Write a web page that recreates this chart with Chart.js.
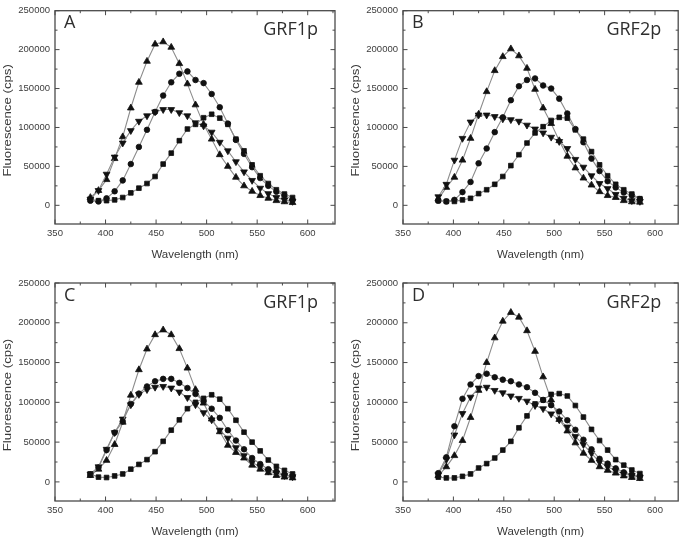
<!DOCTYPE html>
<html>
<head>
<meta charset="utf-8">
<script src="https://cdn.jsdelivr.net/npm/chart.js@4.4.1/dist/chart.umd.min.js"></script>
<style>
  html, body { margin: 0; padding: 0; background: #fff; overflow: hidden; }
  #wrap { position: relative; width: 683px; height: 537px; }
  canvas { position: absolute; }
</style>
</head>
<body>
<div id="wrap">
  <canvas id="chartA" width="341" height="268" style="left:0;top:0"></canvas>
  <canvas id="chartB" width="342" height="268" style="left:341px;top:0"></canvas>
  <canvas id="chartC" width="341" height="269" style="left:0;top:268px"></canvas>
  <canvas id="chartD" width="342" height="269" style="left:341px;top:268px"></canvas>
</div>
<script>
// wavelengths (nm), same for every panel
const wavelength = [385, 393, 401, 409, 417, 425, 433, 441, 449, 457, 465, 473, 481,
                    489, 497, 505, 513, 521, 529, 537, 545, 553, 561, 569, 577, 585];

const xTicks = [350, 400, 450, 500, 550, 600];
const yTicks = [0, 50000, 100000, 150000, 200000, 250000];

// panel A - GRF1p
const aSquare = [7000, 6000, 6000, 7000, 10000, 16000, 22000, 28000, 37000, 53000, 67000, 83000, 98000,
                 104000, 112500, 117000, 112000, 104000, 85000, 70000, 52000, 38000, 28000, 20000, 14500, 10000];
const aCircle = [6000, 5000, 9000, 18000, 32000, 53000, 75000, 97000, 120000, 141000, 158000, 169000, 172000,
                 161000, 157000, 143000, 126000, 105000, 84000, 66000, 49000, 35000, 25000, 17500, 12500, 7000];
const aDown = [8000, 19000, 40000, 62000, 80000, 96000, 108000, 115000, 120000, 123000, 123000, 119000, 115000,
               106000, 102000, 94000, 81000, 70000, 56000, 43000, 32000, 22000, 15000, 10000, 7000, 5000];
const aUp = [10000, 19000, 33000, 60000, 88000, 125000, 158000, 185000, 207000, 210000, 203000, 182000, 156000,
             129000, 104000, 85000, 65000, 50000, 36000, 25000, 18000, 12500, 9000, 6000, 4500, 3500];

// panel B - GRF2p
const bSquare = [6000, 5000, 5000, 7000, 9000, 15000, 20000, 27000, 37000, 51000, 65000, 80000, 93000,
                 101000, 109000, 113000, 112000, 97000, 85000, 69000, 52000, 38000, 27000, 20000, 14500, 8500];
const bCircle = [6000, 5000, 7000, 17000, 30000, 54000, 73000, 94000, 113000, 135000, 153000, 161000, 163000,
                 154000, 150000, 137000, 118000, 98000, 81000, 60000, 44000, 31000, 23000, 16500, 12500, 8000];
const bDown = [11000, 27000, 58000, 86000, 107000, 116000, 116000, 114000, 111000, 110000, 108000, 103000, 98000,
               93000, 87500, 82000, 73000, 59000, 49000, 38000, 28000, 21500, 14000, 9000, 6000, 5000];
const bUp = [8000, 23000, 36000, 58000, 86000, 117000, 146000, 173000, 191000, 201000, 192000, 176000, 149000,
             125000, 105000, 83000, 63000, 48000, 35000, 26000, 17500, 12500, 10000, 6000, 4500, 4000];

// panel C - GRF1p
const cSquare = [10000, 6000, 5500, 7500, 10000, 16000, 22000, 28000, 38000, 51000, 65000, 78000, 92000,
                 100000, 105000, 109500, 104000, 92000, 77500, 62500, 50000, 39000, 27500, 19500, 14500, 10000];
const cCircle = [9000, 18000, 40000, 62000, 76000, 98000, 111000, 120000, 126500, 129500, 129500, 124500, 118000,
                 110500, 101500, 92000, 80500, 65000, 52000, 41000, 30000, 22500, 16000, 13000, 9000, 7000];
const cDown = [10000, 19000, 41000, 62000, 79000, 97000, 110000, 116000, 119000, 120000, 118000, 113000, 106000,
               97000, 87000, 78000, 65000, 55000, 43000, 33000, 24500, 19000, 13500, 11000, 8000, 6500];
const cUp = [8000, 16000, 27000, 47000, 75000, 109000, 141000, 167000, 185000, 191000, 185000, 167500, 143000,
             116000, 99000, 79000, 63000, 46000, 37000, 30000, 21000, 16000, 11500, 8000, 6000, 5000];

// panel D - GRF2p
const dSquare = [6000, 5000, 5000, 7000, 10000, 17500, 23000, 30000, 40000, 51000, 68000, 83000, 98000,
                 103000, 110000, 111000, 108000, 96000, 81500, 66000, 52000, 40000, 28000, 21000, 15000, 10500];
const dCircle = [11000, 31000, 70000, 104500, 122500, 133000, 136000, 131500, 128500, 126500, 122500, 119000, 112000,
                 103000, 96500, 88500, 77500, 65500, 53000, 41000, 29000, 23000, 17000, 12000, 9000, 7000];
const dDown = [9000, 28000, 59000, 86000, 106500, 118000, 119000, 115000, 112000, 108000, 105000, 101500, 96000,
               92000, 85500, 78000, 69000, 57000, 47000, 36000, 25000, 19000, 14000, 10000, 8000, 6000];
const dUp = [8000, 19000, 33000, 52000, 81000, 115000, 150000, 181000, 202000, 213000, 207000, 190000, 164000,
             132000, 103000, 78500, 64000, 49000, 36000, 27000, 19000, 14500, 11000, 7500, 5500, 4200];

const SANS = "'Liberation Sans', Arial, sans-serif";
const LABEL_FONT = "'Open Sans', 'Noto Sans', sans-serif";

const panelPlugin = {
  id: "panel",
  afterDraw(chart, args, opts) {
    const { ctx, chartArea: a } = chart;
    const xs = chart.scales.x, ys = chart.scales.y;
    ctx.save();
    ctx.strokeStyle = "#4a4a4a";
    ctx.lineWidth = 1.3;
    ctx.strokeRect(a.left, a.top, a.right - a.left, a.bottom - a.top);

    // inward ticks on all four sides
    ctx.lineWidth = 1;
    ctx.beginPath();
    xTicks.forEach((v) => {
      [[v, 4.5], [v + 25, 2.5]].forEach(([t, len]) => {
        if (t > xs.max) return;
        const px = xs.getPixelForValue(t);
        ctx.moveTo(px, a.bottom); ctx.lineTo(px, a.bottom - len);
        ctx.moveTo(px, a.top); ctx.lineTo(px, a.top + len);
      });
    });
    yTicks.forEach((v) => {
      [[v, 4.5], [v + 25000, 2.5]].forEach(([t, len]) => {
        if (t > ys.max) return;
        const py = ys.getPixelForValue(t);
        ctx.moveTo(a.left, py); ctx.lineTo(a.left + len, py);
        ctx.moveTo(a.right, py); ctx.lineTo(a.right - len, py);
      });
    });
    ctx.stroke();

    // axis titles
    ctx.fillStyle = "#383838";
    ctx.font = "11.5px " + SANS;
    ctx.textAlign = "center";
    ctx.textBaseline = "middle";
    ctx.fillText("Wavelength (nm)", (a.left + a.right) / 2, a.bottom + 31);
    ctx.save();
    ctx.translate(a.left - 47, (a.top + a.bottom) / 2 + 3);
    ctx.rotate(-Math.PI / 2);
    ctx.scale(1.15, 1);
    ctx.fillText("Fluorescence (cps)", 0, 0);
    ctx.restore();

    // panel letter and protein name
    ctx.fillStyle = "#2e2e2e";
    ctx.font = "18px " + LABEL_FONT;
    ctx.textBaseline = "alphabetic";
    ctx.textAlign = "left";
    ctx.fillText(opts.letter, a.left + 9, a.top + 17.5);
    ctx.textAlign = "right";
    ctx.fillText(opts.name, a.right - 17, a.top + 24.5);
    ctx.restore();
  },
};

function series(values, style, radius, rotation) {
  return {
    data: values.map((v, i) => ({ x: wavelength[i], y: v })),
    showLine: true,
    borderColor: "#8c8c8c",
    borderWidth: 1.1,
    pointStyle: style,
    pointRotation: rotation || 0,
    pointRadius: radius,
    pointBackgroundColor: "#111",
    pointBorderColor: "#111",
    pointBorderWidth: 0.8,
    tension: 0,
  };
}

function makePanel(id, p, sets) {
  const canvas = document.getElementById(id);
  return new Chart(canvas.getContext("2d"), {
    type: "scatter",
    data: {
      datasets: [
        series(sets[0], "rect", 3.3),
        series(sets[1], "circle", 2.8),
        series(sets[2], "triangle", 3.9, 180),
        series(sets[3], "triangle", 3.9),
      ],
    },
    options: {
      responsive: false,
      animation: false,
      layout: { padding: { left: 0, top: p.top, right: canvas.width - p.right, bottom: 0 } },
      plugins: {
        legend: { display: false },
        tooltip: { enabled: false },
        panel: { letter: p.letter, name: p.name },
      },
      scales: {
        x: {
          type: "linear",
          min: 350,
          max: p.xMax,
          grid: { display: false, drawTicks: false },
          border: { display: false },
          ticks: { font: { family: SANS, size: 9.5 }, color: "#3c3c3c", padding: 4, maxRotation: 0, autoSkip: false },
          afterBuildTicks: (s) => { s.ticks = xTicks.map((v) => ({ value: v })); },
          afterFit: (s) => { s.height = canvas.height - p.bottom; },
        },
        y: {
          min: -24000,
          max: 250000,
          grid: { display: false, drawTicks: false },
          border: { display: false },
          ticks: { font: { family: SANS, size: 9.5 }, color: "#3c3c3c", padding: 5, callback: (v) => String(v) },
          afterBuildTicks: (s) => { s.ticks = yTicks.map((v) => ({ value: v })); },
          afterFit: (s) => { s.width = p.left; },
        },
      },
    },
    plugins: [panelPlugin],
  });
}

makePanel("chartA", { left: 55, right: 335, top: 5, bottom: 224, xMax: 627, letter: "A", name: "GRF1p" },
  [aSquare, aCircle, aDown, aUp]);
makePanel("chartB", { left: 62, right: 340, top: 5, bottom: 224, xMax: 623, letter: "B", name: "GRF2p" },
  [bSquare, bCircle, bDown, bUp]);
makePanel("chartC", { left: 55, right: 335, top: 15, bottom: 233, xMax: 627, letter: "C", name: "GRF1p" },
  [cSquare, cCircle, cDown, cUp]);
makePanel("chartD", { left: 62, right: 340, top: 15, bottom: 233, xMax: 623, letter: "D", name: "GRF2p" },
  [dSquare, dCircle, dDown, dUp]);
</script>
</body>
</html>
